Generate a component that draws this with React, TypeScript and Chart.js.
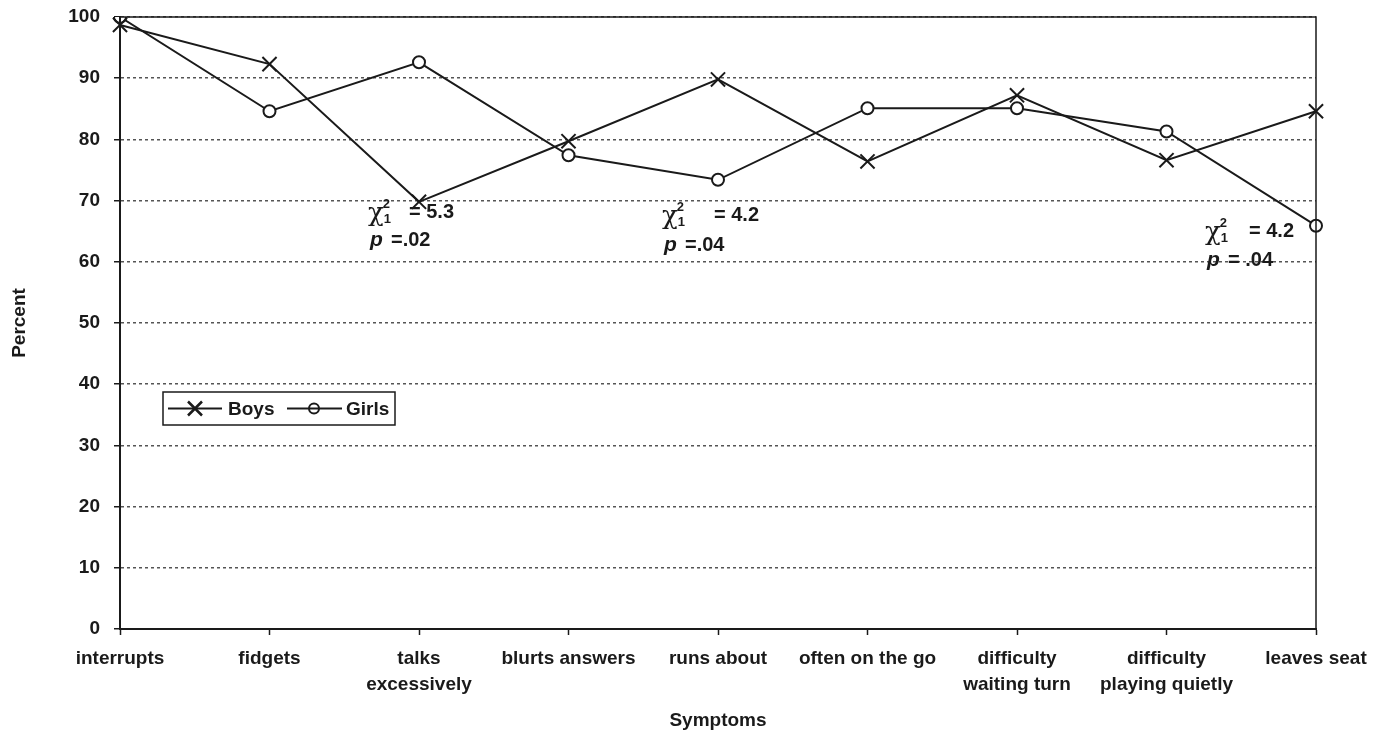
import React, { useEffect, useRef } from "react";
import { Chart, registerables } from "chart.js";

Chart.register(...registerables);

// ---- data ----
const categories: string[][] = [
  ["interrupts"],
  ["fidgets"],
  ["talks", "excessively"],
  ["blurts answers"],
  ["runs about"],
  ["often on the go"],
  ["difficulty", "waiting turn"],
  ["difficulty", "playing quietly"],
  ["leaves seat"],
];
const boys = [98.7, 92.3, 69.8, 79.7, 89.8, 76.4, 87.2, 76.6, 84.6];
const girls = [100, 84.6, 92.6, 77.4, 73.4, 85.1, 85.1, 81.3, 65.9];
const seriesNames = ["Boys", "Girls"];
const yMin = 0;
const yMax = 100;
const yStep = 10;
const statNotes = [
  { index: 2, chi: "5.3", p: "=.02" },
  { index: 4, chi: "4.2", p: "=.04" },
  { index: 8, chi: "4.2", p: "= .04" },
];

const SANS = '"Liberation Sans", Arial, sans-serif';
const INK = "#1a1a1a";

const framePlugin = {
  id: "frame",
  afterDraw(chart: any) {
    const { ctx, chartArea } = chart;
    const { left, right, top, bottom } = chartArea;
    ctx.save();
    ctx.setLineDash([]);
    ctx.strokeStyle = INK;
    ctx.lineWidth = 1.5;
    ctx.beginPath();
    ctx.moveTo(left, top);
    ctx.lineTo(right, top);
    ctx.lineTo(right, bottom);
    ctx.stroke();
    ctx.lineWidth = 2;
    ctx.beginPath();
    ctx.moveTo(left, top);
    ctx.lineTo(left, bottom);
    ctx.lineTo(right, bottom);
    ctx.stroke();
    ctx.restore();
  },
};

const legendPlugin = {
  id: "boxLegend",
  afterDraw(chart: any) {
    const { ctx, chartArea } = chart;
    const bx = chartArea.left + 43;
    const by = chartArea.top + 375;
    const bw = 232;
    const bh = 33;
    const cy = by + bh / 2;
    ctx.save();
    ctx.fillStyle = "#fff";
    ctx.fillRect(bx, by, bw, bh);
    ctx.strokeStyle = INK;
    ctx.lineWidth = 1.5;
    ctx.strokeRect(bx, by, bw, bh);
    ctx.lineWidth = 2;
    // Boys
    ctx.beginPath();
    ctx.moveTo(bx + 5, cy);
    ctx.lineTo(bx + 59, cy);
    ctx.stroke();
    const mx = bx + 32;
    ctx.lineWidth = 2.5;
    ctx.beginPath();
    ctx.moveTo(mx - 7, cy - 7);
    ctx.lineTo(mx + 7, cy + 7);
    ctx.moveTo(mx + 7, cy - 7);
    ctx.lineTo(mx - 7, cy + 7);
    ctx.stroke();
    // Girls
    ctx.lineWidth = 2;
    ctx.beginPath();
    ctx.moveTo(bx + 124, cy);
    ctx.lineTo(bx + 179, cy);
    ctx.stroke();
    ctx.beginPath();
    ctx.arc(bx + 151, cy, 5, 0, Math.PI * 2);
    ctx.stroke();
    ctx.fillStyle = INK;
    ctx.font = `bold 19px ${SANS}`;
    ctx.textBaseline = "middle";
    ctx.textAlign = "left";
    ctx.fillText(chart.data.datasets[0].label, bx + 65, cy + 1);
    ctx.fillText(chart.data.datasets[1].label, bx + 183, cy + 1);
    ctx.restore();
  },
};

const noteLayout = [
  { dx: -50, v: 68.1, eqGap: 40, lineGap: 28 },
  { dx: -55, v: 67.6, eqGap: 51, lineGap: 30 },
  { dx: -110, v: 65.0, eqGap: 43, lineGap: 29 },
];

const notesPlugin = {
  id: "statNotes",
  afterDatasetsDraw(chart: any) {
    const { ctx } = chart;
    const xs = chart.scales.x;
    const ys = chart.scales.y;
    ctx.save();
    ctx.fillStyle = INK;
    ctx.textAlign = "left";
    ctx.textBaseline = "middle";
    statNotes.forEach((n, i) => {
      const lay = noteLayout[i];
      const x = xs.getPixelForValue(n.index) + lay.dx;
      const y = ys.getPixelForValue(lay.v);
      ctx.font = '26px "DejaVu Serif", "Liberation Serif", serif';
      ctx.fillText("\u03C7", x - 1, y + 2);
      const cw = ctx.measureText("\u03C7").width;
      ctx.font = `bold 13px ${SANS}`;
      ctx.fillText("2", x + cw - 2, y - 8);
      ctx.fillText("1", x + cw - 1, y + 7);
      ctx.font = `bold 20px ${SANS}`;
      ctx.fillText("= " + n.chi, x + lay.eqGap, y);
      const y2 = y + lay.lineGap;
      ctx.font = `italic bold 21px ${SANS}`;
      ctx.fillText("p", x + 1, y2);
      ctx.font = `bold 20px ${SANS}`;
      ctx.fillText(n.p, x + 22, y2);
    });
    ctx.restore();
  },
};

export default function App() {
  const ref = useRef<HTMLCanvasElement | null>(null);
  useEffect(() => {
    if (!ref.current) return;
    const chart = new Chart(ref.current, {
      type: "line",
      data: {
        labels: categories,
        datasets: [
          {
            label: seriesNames[0],
            data: boys,
            borderColor: INK,
            borderWidth: 2,
            pointStyle: "crossRot",
            pointRadius: 10,
            pointBorderWidth: 2,
            pointBorderColor: INK,
            pointBackgroundColor: INK,
            tension: 0,
          },
          {
            label: seriesNames[1],
            data: girls,
            borderColor: INK,
            borderWidth: 2,
            pointStyle: "circle",
            pointRadius: 6,
            pointBorderWidth: 2,
            pointBorderColor: INK,
            pointBackgroundColor: "#fff",
            tension: 0,
          },
        ],
      },
      options: {
        animation: false,
        responsive: false,
        layout: { padding: { top: 17, right: 62, left: 0, bottom: 0 } },
        plugins: {
          legend: { display: false },
          tooltip: { enabled: false },
        },
        scales: {
          x: {
            type: "category",
            offset: false,
            grid: {
              display: true,
              drawOnChartArea: false,
              drawTicks: true,
              tickLength: 6,
              tickColor: INK,
              tickWidth: 1.5,
            },
            border: { display: true, color: INK, width: 2 },
            ticks: {
              color: INK,
              font: { family: SANS, size: 19, weight: "bold", lineHeight: 1.4 },
              padding: 10,
              maxRotation: 0,
              autoSkip: false,
            },
            title: {
              display: true,
              text: "Symptoms",
              color: INK,
              font: { family: SANS, size: 19, weight: "bold" },
              padding: { top: 0, bottom: 5 },
            },
            afterFit(scale: any) {
              scale.height = 108;
            },
          },
          y: {
            min: yMin,
            max: yMax,
            ticks: {
              stepSize: yStep,
              color: INK,
              font: { family: SANS, size: 19, weight: "bold" },
              padding: 14,
            },
            grid: {
              color: "#555",
              lineWidth: 1.5,
              drawTicks: true,
              tickLength: 6,
              tickColor: INK,
              tickWidth: 1.5,
              tickBorderDash: [],
            },
            border: { display: true, color: INK, width: 2, dash: [3, 3] },
            title: {
              display: true,
              text: "Percent",
              color: INK,
              font: { family: SANS, size: 19, weight: "bold" },
              padding: { top: 8, bottom: 0 },
            },
            afterFit(scale: any) {
              scale.width = 120;
              scale.paddingTop = 0;
              scale.paddingBottom = 0;
            },
          },
        },
      },
      plugins: [framePlugin, notesPlugin, legendPlugin],
    } as any);
    return () => chart.destroy();
  }, []);
  return (
    <div style={{ position: "absolute", left: 0, top: 0, width: 1378, height: 737, background: "#fff" }}>
      <canvas ref={ref} width={1378} height={737} style={{ display: "block" }} />
    </div>
  );
}
